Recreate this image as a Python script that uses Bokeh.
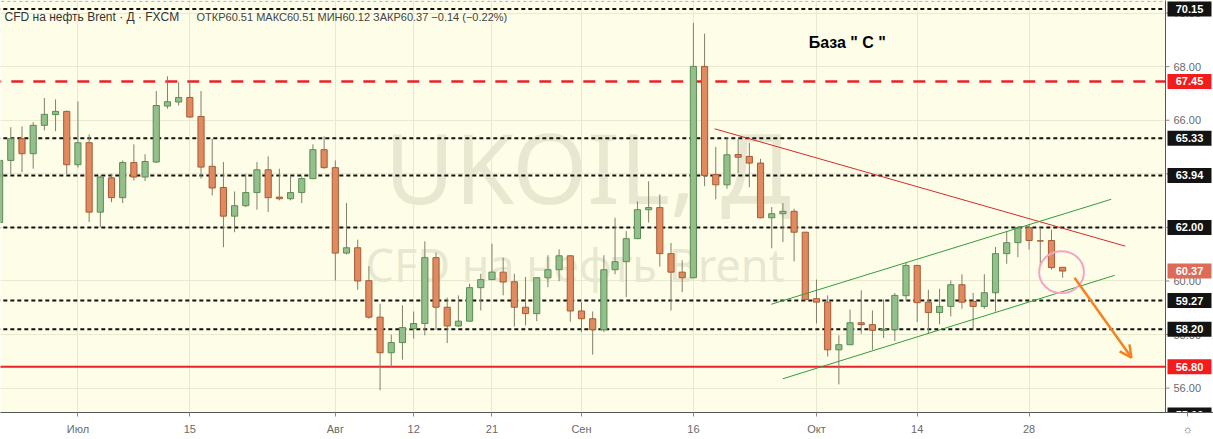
from bokeh.plotting import figure
from bokeh.models import Range1d, FixedTicker, Arrow, OpenHead, ColumnDataSource
from bokeh.core.properties import value
from bokeh.embed import file_html
from bokeh.resources import INLINE

# ---- data (daily candles, 20 Jun .. 31 Oct 2019, bar index 0..95) ----
opens = [62.18, 64.50, 65.31, 64.75, 65.81, 66.21, 66.33, 64.34, 65.16, 62.57,
         63.85, 63.11, 64.42, 63.88, 64.44, 66.53, 66.68, 66.85, 66.14, 64.28,
         63.49, 62.42, 62.81, 63.30, 64.15, 63.13, 63.07, 63.30, 63.82, 64.90,
         64.23, 61.04, 61.24, 60.01, 58.65, 57.32, 57.70, 58.22, 58.41, 60.87,
         59.02, 58.32, 58.50, 59.75, 60.05, 60.33, 59.97, 59.02, 58.78, 60.12,
         60.42, 60.94, 58.88, 58.59, 58.18, 60.42, 60.72, 61.58, 62.66, 62.74,
         61.02, 60.33, 60.12, 68.01, 63.97, 63.59, 64.72, 64.65, 64.40, 62.36,
         62.51, 62.60, 61.82, 59.34, 59.21, 57.43, 57.62, 58.44, 58.37, 58.16,
         58.18, 59.45, 60.58, 59.21, 58.82, 59.05, 59.86, 59.24, 59.05, 59.56,
         61.02, 61.43, 61.99, 61.50, 61.51, 60.51]
highs = [64.55, 65.74, 65.77, 65.93, 66.83, 66.78, 66.36, 66.70, 65.47, 63.94,
         64.00, 64.50, 65.10, 64.73, 67.09, 67.64, 67.42, 67.42, 67.09, 65.31,
         64.44, 63.34, 64.00, 64.44, 64.65, 64.19, 63.94, 63.90, 65.10, 65.40,
         64.50, 62.91, 61.54, 60.55, 59.15, 58.00, 59.09, 58.86, 61.48, 61.06,
         59.38, 59.46, 59.90, 60.27, 61.39, 60.87, 60.27, 60.15, 60.13, 60.96,
         61.18, 60.95, 59.21, 58.86, 60.96, 62.36, 61.86, 62.97, 63.72, 63.23,
         61.42, 60.77, 69.63, 69.23, 65.00, 65.37, 65.31, 65.16, 64.56, 62.76,
         62.91, 62.70, 61.83, 60.05, 59.46, 57.97, 58.93, 59.65, 58.90, 59.31,
         59.55, 60.68, 60.60, 59.67, 59.71, 60.02, 60.25, 59.55, 60.25, 61.27,
         61.86, 62.04, 62.11, 61.99, 61.91, 60.51]
lows = [62.10, 64.00, 64.06, 64.19, 65.62, 65.59, 64.00, 64.23, 62.20, 62.01,
        62.94, 62.91, 63.75, 63.73, 64.40, 66.43, 66.55, 66.10, 63.82, 63.19,
        61.26, 61.82, 62.76, 62.66, 62.57, 63.01, 63.01, 62.91, 63.80, 64.19,
        60.02, 60.99, 59.67, 58.59, 55.92, 56.79, 57.06, 57.85, 57.97, 58.18,
        57.68, 58.28, 58.48, 58.90, 60.03, 59.46, 58.30, 58.34, 58.50, 59.77,
        59.99, 58.48, 58.09, 57.25, 58.09, 60.25, 59.40, 61.56, 62.18, 60.54,
        58.90, 59.58, 60.10, 63.54, 63.05, 63.44, 64.03, 63.50, 62.34, 61.22,
        61.45, 60.73, 59.28, 58.41, 57.18, 56.14, 57.61, 58.03, 57.43, 57.87,
        57.76, 59.27, 58.47, 58.03, 58.38, 58.68, 58.96, 58.18, 58.96, 58.86,
        60.64, 60.89, 61.17, 60.54, 60.42, 60.12]
closes = [64.50, 65.31, 64.75, 65.81, 66.22, 66.33, 64.34, 65.16, 62.57, 63.88,
          63.11, 64.42, 63.88, 64.46, 66.55, 66.69, 66.85, 66.12, 64.25, 63.47,
          62.42, 62.81, 63.30, 64.15, 63.11, 63.07, 63.30, 63.82, 64.90, 64.23,
          61.04, 61.24, 60.00, 58.65, 57.32, 57.70, 58.26, 58.41, 60.87, 59.02,
          58.32, 58.50, 59.75, 60.05, 60.33, 59.96, 59.02, 58.78, 60.12, 60.42,
          60.94, 58.88, 58.59, 58.18, 60.42, 60.72, 61.58, 62.66, 62.74, 61.02,
          60.33, 60.12, 68.01, 63.94, 63.59, 64.71, 64.62, 64.40, 62.36, 62.51,
          62.60, 61.82, 59.30, 59.21, 57.43, 57.62, 58.44, 58.37, 58.16, 58.20,
          59.46, 60.58, 59.19, 58.82, 59.05, 59.86, 59.21, 59.05, 59.56, 61.02,
          61.43, 61.99, 61.51, 61.49, 60.50, 60.37]

tick_idx = [7, 17, 30, 37, 44, 52, 62, 73, 82, 92]
tick_labels = ["Июл", "15", "Авг", "12", "21", "Сен", "16", "Окт", "14", "28"]
price_ticks = [56, 58, 60, 62, 64, 66, 68, 70]

levels_black = [70.15, 65.33, 63.94, 62.00, 59.27, 58.20]
level_red_dash = [67.45]
level_red_solid = [56.80]
level_offscreen = [55.00]
last_price = [60.37]

trend_red_x, trend_red_y = [63.9, 100.6], [65.68, 61.30]
chan_up_x, chan_up_y = [68.96, 99.34], [59.13, 63.05]
chan_dn_x, chan_dn_y = [70.0, 99.64], [56.35, 60.21]
circle_x, circle_y = [94.9], [60.33]
arrow_pts = [96.06, 60.12, 101.15, 57.14]

title_main = "CFD на нефть Brent · Д · FXCM"
title_ohlc = "ОТКР60.51 МАКС60.51 МИН60.12 ЗАКР60.37 −0.14 (−0.22%)"

# ---- figure geometry ----
W, H = 1213, 439
AXW = 48                      # width of the price-scale strip
X0, XA = 0.08, 104.19         # visible bar range (left edge .. price-scale line)
XR = X0 + (XA - X0) * W / (W - AXW)
DPX = (XR - X0) / W           # data units per pixel (x)
Y0, Y1 = 55.09, 70.47
BG = "#fefee8"
FONT = "Liberation Sans"

p = figure(width=W, height=H, x_range=Range1d(X0, XR), y_range=Range1d(Y0, Y1),
           y_axis_location=None, output_backend="svg", toolbar_location=None,
           min_border_left=0, min_border_top=0, min_border_right=0, min_border_bottom=27,
           background_fill_color=BG, border_fill_color="white", outline_line_color=None)

gear_x = XA + 22 * DPX
p.xaxis.ticker = FixedTicker(ticks=tick_idx + [gear_x])
overrides = {t: l for t, l in zip(tick_idx, tick_labels)}
overrides[gear_x] = "☼"
p.xaxis.major_label_overrides = overrides
p.xaxis.major_label_text_font = FONT
p.xaxis.major_label_text_font_size = "11px"
p.xaxis.major_label_text_color = "#6a6a6a"
p.xaxis.major_tick_in = 0
p.xaxis.major_tick_out = 4
p.xaxis.minor_tick_line_color = None
p.xaxis.axis_line_color = "#555555"
p.xaxis.major_tick_line_color = "#888888"
p.xaxis.major_label_standoff = 6

p.xgrid.ticker = FixedTicker(ticks=tick_idx)
p.ygrid.ticker = FixedTicker(ticks=price_ticks)
p.grid.grid_line_color = "#e9e9cf"

# watermark
p.text(x=[34.4], y=[64.27], text=["UKOIL, Д"], text_font=value("Noto Sans"),
       text_font_size="96px", text_color="#e8e8d0", text_baseline="middle")
p.text(x=[32.7], y=[60.62], text=["CFD на нефть Brent"], text_font=value("Noto Sans"),
       text_font_size="45px", text_color="#e8e8d0", text_baseline="middle")

# faint line at the very top
p.segment(x0=[X0 - 1], x1=[XA], y0=[70.44], y1=[70.44], line_color="#a8a8a0",
          line_dash="3 3", line_width=1)

# level lines (stop at the price scale)
def hline(levels, color, dash, width):
    p.segment(x0=[X0 - 1] * len(levels), x1=[XA] * len(levels), y0=levels, y1=levels,
              line_color=color, line_dash=dash, line_width=width)

hline(levels_black, "#111111", "4 3", 2)
hline(level_red_dash, "#e8232b", "12 10", 2.5)
hline(level_red_solid, "#e8232b", "solid", 2)

# candles
idx = list(range(len(opens)))
up = [c >= o for o, c in zip(opens, closes)]
src = ColumnDataSource(dict(
    x=idx,
    top=[max(o, c) for o, c in zip(opens, closes)],
    bottom=[min(o, c) for o, c in zip(opens, closes)],
    high=highs, low=lows,
    fill=["#93bf8b" if u else "#e08a60" for u in up],
    line=["#5a8c54" if u else "#a85a36" for u in up],
))
p.segment(x0="x", y0="low", x1="x", y1="high", source=src, line_color="#80806a", line_width=1)
p.vbar(x="x", width=0.55, top="top", bottom="bottom", source=src,
       fill_color="fill", line_color="line", line_width=1)

# trend lines / drawings
p.line(trend_red_x, trend_red_y, line_color="#d42a2a", line_width=1)
p.line(chan_up_x, chan_up_y, line_color="#2f9e3a", line_width=1)
p.line(chan_dn_x, chan_dn_y, line_color="#2f9e3a", line_width=1)
p.ellipse(x=circle_x, y=circle_y, width=4.0, height=1.57, fill_color=None,
          line_color="#f2a6c6", line_width=2)
p.add_layout(Arrow(x_start=arrow_pts[0], y_start=arrow_pts[1], x_end=arrow_pts[2], y_end=arrow_pts[3],
                   line_color="#f5821f", line_width=2.5,
                   end=OpenHead(size=12, line_color="#f5821f", line_width=2.5)))

# header texts
p.text(x=[0.44], y=[69.84], text=[title_main], text_font=value(FONT), text_font_size="12px",
       text_color="#333333", text_baseline="middle")
p.text(x=[17.6], y=[69.84], text=[title_ohlc], text_font=value(FONT), text_font_size="11px",
       text_color="#444444", text_baseline="middle")
p.text(x=[72.3], y=[68.91], text=['База  " С "'], text_font=value(FONT), text_font_size="16px",
       text_font_style="bold", text_color="#000000", text_baseline="middle")

# ---- price scale strip on the right ----
p.quad(left=[XA], right=[XR + 1], bottom=[Y0 - 2], top=[Y1 + 2], fill_color="white", line_color=None)
p.segment(x0=[XA], x1=[XA], y0=[Y0 - 2], y1=[Y1 + 2], line_color="#555555", line_width=1)
p.segment(x0=[XA] * len(price_ticks), x1=[XA + 4 * DPX] * len(price_ticks),
          y0=price_ticks, y1=price_ticks, line_color="#888888", line_width=1)
p.text(x=[XA + 8 * DPX] * len(price_ticks), y=price_ticks, text=[f"{v:.2f}" for v in price_ticks],
       text_font=value(FONT), text_font_size="11px", text_color="#6a6a6a", text_baseline="middle")

box_vals = levels_black + level_offscreen + level_red_dash + level_red_solid + last_price
box_cols = (["#131313"] * (len(levels_black) + len(level_offscreen)) +
            ["#f21c1c"] * (len(level_red_dash) + len(level_red_solid)) + ["#dc6b57"])
box_x = [XA + 24 * DPX] * len(box_vals)
p.rect(x=box_x, y=box_vals, width=44, height=15, width_units="screen", height_units="screen",
       fill_color=box_cols, line_color=None)
p.text(x=box_x, y=box_vals, text=[f"{v:.2f}" for v in box_vals], text_font=value(FONT),
       text_font_size="11px", text_font_style="bold", text_color="white",
       text_align="center", text_baseline="middle")

open("out.html", "w").write(file_html(p, INLINE))
